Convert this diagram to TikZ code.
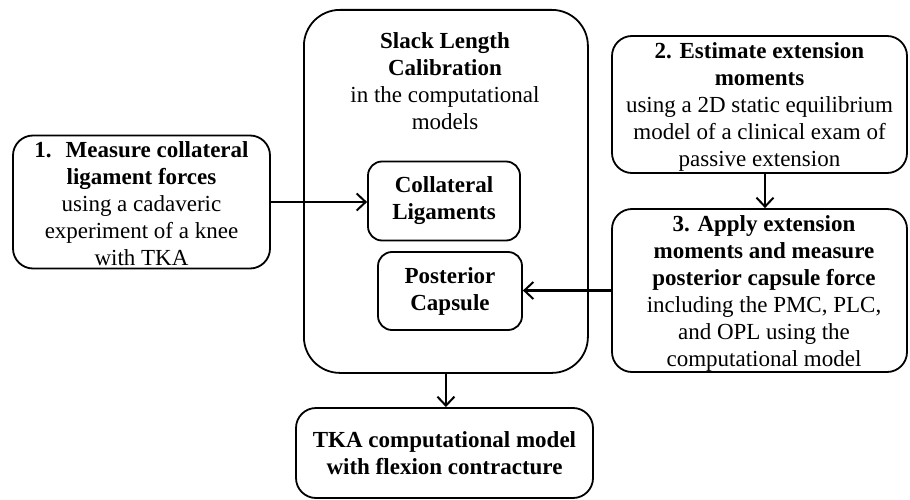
\documentclass[tikz,border=0pt]{standalone}
\usepackage{fontspec}
\setmainfont{Liberation Serif}
\usetikzlibrary{arrows.meta}
\begin{document}
\begin{tikzpicture}[x=1pt,y=-1pt,
  txt/.style={font=\fontsize{23}{27}\selectfont, align=center, inner sep=0pt},
  box/.style={draw, line width=1.8pt, rounded corners=20pt, inner sep=0pt, align=center,
    font=\fontsize{23}{27}\selectfont},
  arr/.style={line width=2.4pt, -{Straight Barb[length=9pt,width=17pt,line width=2pt]}}]
\useasboundingbox (0,0) rectangle (910,500);
\node[box, rounded corners=36pt, minimum width=284pt, minimum height=363pt, anchor=north west] (big) at (303,9) {};
\node[txt, anchor=north] (bigt) at (445,32) {\textbf{Slack Length}\\\textbf{Calibration}\\in the computational\\models};
\node[box, rounded corners=14pt, minimum width=152pt, minimum height=79pt] (cl) at (444,201) {\textbf{Collateral}\\\textbf{Ligaments}};
\node[box, rounded corners=14pt, minimum width=144pt, minimum height=78pt] (pc) at (450,291) {\textbf{Posterior}\\\textbf{Capsule}};
\node[box, minimum width=257pt, minimum height=133pt] (b1) at (141.5,202) {};
\node[txt] (t1) at (141.5,204) {\textbf{1.\hspace{14pt}Measure collateral}\\\textbf{ligament forces}\\using a cadaveric\\experiment of a knee\\with TKA};
\node[box, minimum width=295pt, minimum height=137pt] (b2) at (759.5,104.5) {};
\node[txt] (t2) at (759.5,107) {\textbf{2. Estimate extension}\\\textbf{moments}\\using a 2D static equilibrium\\model of a clinical exam of\\passive extension};
\node[box, minimum width=295pt, minimum height=163pt] (b3) at (759.5,290.5) {};
\node[txt] (t3) at (764,293) {\textbf{3. Apply extension}\\\textbf{moments and measure}\\\textbf{posterior capsule force}\\including the PMC, PLC,\\and OPL using the\\computational model};
\node[box, minimum width=297pt, minimum height=90pt] (b4) at (444.5,453) {\textbf{TKA computational model}\\\textbf{with flexion contracture}};
\draw[arr] (b1.east) -- (b1.east -| cl.west);
\draw[arr] (b3.west) -- (b3.west -| pc.east);
\draw[arr] ([xshift=5.5pt]b2.south) -- ([xshift=5.5pt]b2.south |- b3.north);
\draw[arr] (big.south) -- (big.south |- b4.north);
\end{tikzpicture}
\end{document}
